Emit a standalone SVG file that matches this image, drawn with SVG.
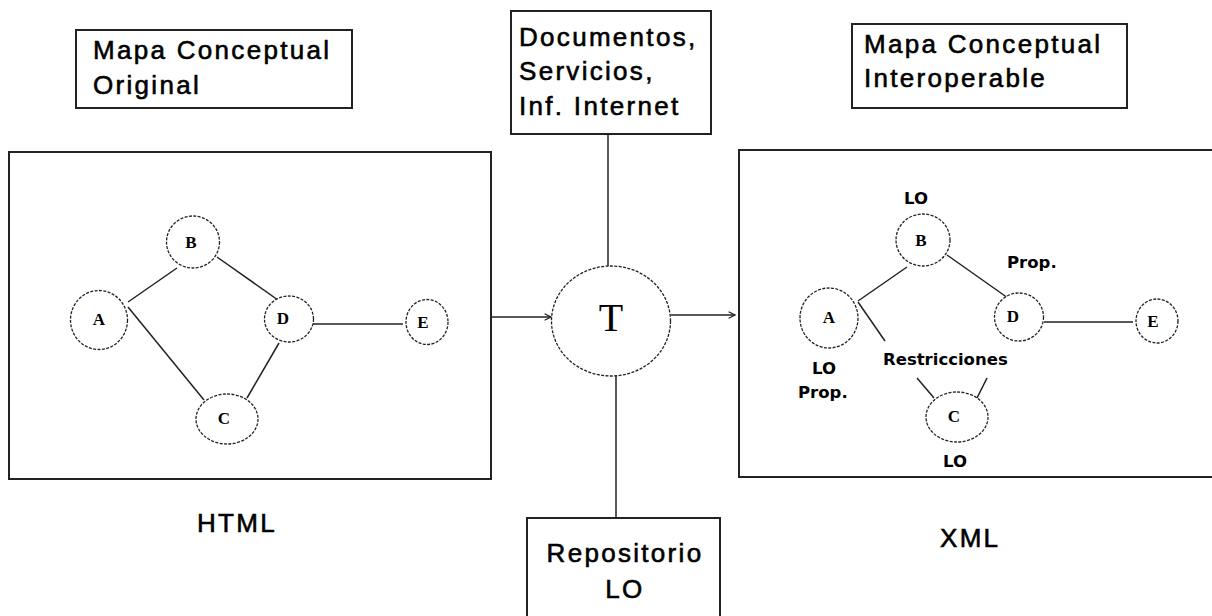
<svg xmlns="http://www.w3.org/2000/svg" width="1212" height="616" viewBox="0 0 1212 616">
<style>
.box{fill:#fff;stroke:#222;stroke-width:2}
.frame{fill:none;stroke:#222;stroke-width:2}
.nd{fill:#fff;stroke:#222;stroke-width:1.3;stroke-dasharray:3 1.4}
.ln{fill:none;stroke:#222;stroke-width:1.5}
.t{font-family:"Liberation Sans",Arial,sans-serif;font-size:26px;letter-spacing:2.3px;fill:#000;stroke:#000;stroke-width:0.6}
.lb{font-family:"DejaVu Sans",sans-serif;font-weight:bold;font-size:16.5px;fill:#000}
.nl{font-family:"Liberation Serif","Times New Roman",serif;font-weight:bold;font-size:17px;fill:#000;text-anchor:middle}
</style>
<defs>
<marker id="arr" viewBox="0 0 10 10" refX="9" refY="5" markerWidth="8" markerHeight="8" markerUnits="userSpaceOnUse" orient="auto">
<path d="M1,1 L9,5 L1,9" fill="none" stroke="#222" stroke-width="1.5"/>
</marker>
</defs>
<rect width="1212" height="616" fill="#fff"/>

<g id="connectors">
<line class="ln" x1="608" y1="134" x2="608" y2="266"/>
<line class="ln" x1="616" y1="376" x2="616" y2="518"/>
<line class="ln" x1="491" y1="317" x2="551" y2="317" marker-end="url(#arr)"/>
<line class="ln" x1="671" y1="315" x2="735" y2="315" marker-end="url(#arr)"/>
<line class="ln" x1="128" y1="302" x2="177" y2="268"/>
<line class="ln" x1="217" y1="257" x2="278" y2="300"/>
<line class="ln" x1="128" y1="307" x2="204" y2="400"/>
<line class="ln" x1="279" y1="343" x2="247" y2="398"/>
<line class="ln" x1="313" y1="324" x2="403" y2="324"/>
<line class="ln" x1="858" y1="301" x2="907" y2="267"/>
<line class="ln" x1="947" y1="255" x2="1008" y2="298"/>
<line class="ln" x1="858" y1="302" x2="885" y2="341"/>
<line class="ln" x1="917" y1="378" x2="934" y2="398"/>
<line class="ln" x1="987" y1="378" x2="977" y2="398"/>
<line class="ln" x1="1044" y1="322" x2="1133" y2="322"/>
</g>

<g id="title-original">
<rect class="box" x="76" y="30" width="276" height="78"/>
<text class="t" x="93" y="59">Mapa Conceptual</text>
<text class="t" x="93" y="94">Original</text>
</g>

<g id="title-interoperable">
<rect class="box" x="852" y="24" width="275" height="84"/>
<text class="t" x="864" y="53">Mapa Conceptual</text>
<text class="t" x="864" y="87">Interoperable</text>
</g>

<g id="documentos">
<rect class="box" x="511" y="11" width="200" height="123"/>
<text class="t" x="519" y="46">Documentos,</text>
<text class="t" x="519" y="80">Servicios,</text>
<text class="t" x="519" y="115">Inf. Internet</text>
</g>

<g id="repositorio">
<rect class="box" x="527" y="518" width="193" height="110"/>
<text class="t" x="625" y="562" text-anchor="middle">Repositorio</text>
<text class="t" x="625" y="598" text-anchor="middle">LO</text>
</g>

<g id="transform">
<ellipse class="nd" cx="611" cy="321" rx="59.5" ry="55"/>
<text x="611" y="331" text-anchor="middle" font-family="Liberation Serif,serif" font-size="40" fill="#000">T</text>
</g>

<g id="html-map">
<rect class="frame" x="9" y="152" width="482" height="327"/>
<g id="l-B"><ellipse class="nd" cx="193" cy="242" rx="26.5" ry="26"/><text class="nl" x="191" y="248">B</text></g>
<g id="l-A"><ellipse class="nd" cx="99" cy="320" rx="28.5" ry="29.5"/><text class="nl" x="99" y="325">A</text></g>
<g id="l-D"><ellipse class="nd" cx="289" cy="319" rx="24.5" ry="23"/><text class="nl" x="283" y="324">D</text></g>
<g id="l-E"><ellipse class="nd" cx="427" cy="322" rx="21" ry="22.5"/><text class="nl" x="423" y="328">E</text></g>
<g id="l-C"><ellipse class="nd" cx="227" cy="419" rx="31" ry="25"/><text class="nl" x="224" y="424">C</text></g>
</g>
<text id="html-label" class="t" x="197" y="532">HTML</text>

<g id="xml-map">
<rect class="frame" x="739" y="150" width="480" height="327"/>
<g id="r-B"><ellipse class="nd" cx="923" cy="240" rx="27" ry="26"/><text class="nl" x="921" y="246">B</text></g>
<g id="r-A"><ellipse class="nd" cx="829" cy="318" rx="29" ry="30"/><text class="nl" x="829" y="323">A</text></g>
<g id="r-D"><ellipse class="nd" cx="1019" cy="317" rx="24.5" ry="24"/><text class="nl" x="1013" y="322">D</text></g>
<g id="r-E"><ellipse class="nd" cx="1157" cy="321" rx="21" ry="22"/><text class="nl" x="1153" y="327">E</text></g>
<g id="r-C"><ellipse class="nd" cx="957" cy="417" rx="31" ry="25"/><text class="nl" x="954" y="422">C</text></g>
<text class="lb" x="904" y="204">LO</text>
<text class="lb" x="1007" y="268">Prop.</text>
<text class="lb" x="883" y="365">Restricciones</text>
<text class="lb" x="812" y="374">LO</text>
<text class="lb" x="798" y="398">Prop.</text>
<text class="lb" x="943" y="467">LO</text>
</g>
<text id="xml-label" class="t" x="940" y="547">XML</text>
</svg>
